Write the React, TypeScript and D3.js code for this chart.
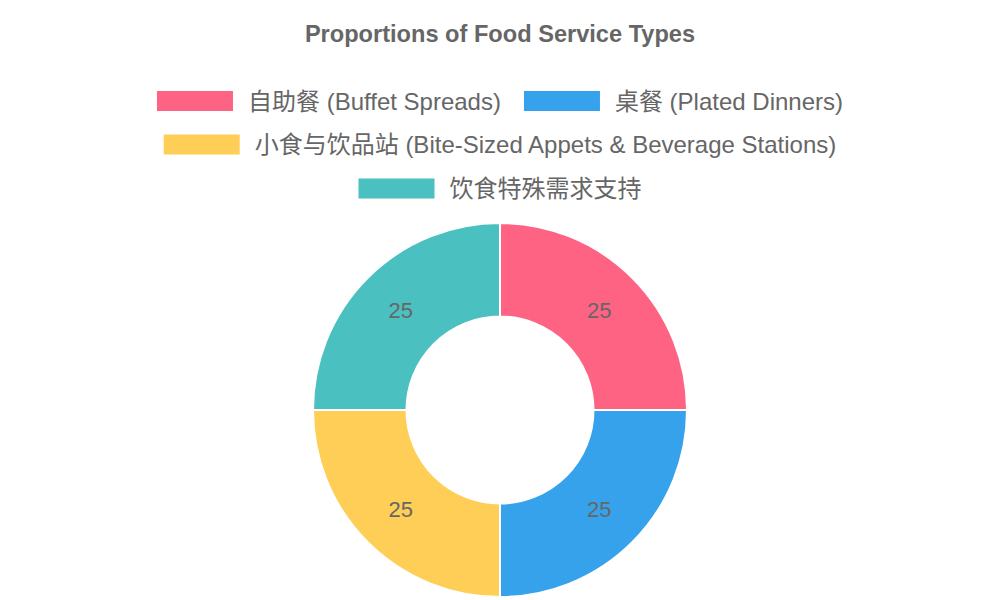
import React, { useEffect, useRef } from "react";
import * as d3 from "d3";

const title = "Proportions of Food Service Types";
const categories = [
  "自助餐 (Buffet Spreads)",
  "桌餐 (Plated Dinners)",
  "小食与饮品站 (Bite-Sized Appets & Beverage Stations)",
  "饮食特殊需求支持",
];
const values = [25, 25, 25, 25];
const colors = ["#FF6384", "#36A2EB", "#FFCE56", "#4BC0C0"];
const legendRows = [[0, 1], [2], [3]];

const W = 1000;
const H = 600;
const FONT = "'Helvetica Neue', Helvetica, Arial, 'Liberation Sans', 'Noto Sans CJK SC', sans-serif";

export default function App() {
  const ref = useRef<SVGSVGElement>(null);

  useEffect(() => {
    const svg = d3.select(ref.current);
    svg.selectAll("*").remove();

    svg
      .append("text")
      .attr("x", W / 2)
      .attr("y", 34)
      .attr("text-anchor", "middle")
      .attr("dominant-baseline", "central")
      .style("font-family", FONT)
      .style("font-size", "23.6px")
      .style("font-weight", "bold")
      .attr("fill", "#666")
      .text(title);

    // Legend
    const boxW = 76;
    const boxH = 20;
    const textGap = 15;
    const itemGap = 23;
    const rowY = [101, 144.5, 188.5];
    const lg = svg.append("g");
    legendRows.forEach((row, ri) => {
      const items = row.map((i) => {
        const g = lg.append("g");
        g.append("rect")
          .attr("width", boxW)
          .attr("height", boxH)
          .attr("y", -boxH / 2)
          .attr("fill", colors[i]);
        const t = g
          .append("text")
          .attr("x", boxW + textGap)
          .attr("y", 0)
          .attr("dominant-baseline", "central")
          .style("font-family", FONT)
          .style("font-size", "24px")
          .attr("fill", "#666")
          .text(categories[i]);
        const tw = (t.node() as SVGTextElement).getComputedTextLength();
        return { g, w: boxW + textGap + tw };
      });
      const total = items.reduce((s, it) => s + it.w, 0) + itemGap * (items.length - 1);
      let x = W / 2 - total / 2;
      items.forEach((it) => {
        it.g.attr("transform", `translate(${x},${rowY[ri]})`);
        x += it.w + itemGap;
      });
    });

    // Donut
    const cx = 500;
    const cy = 410;
    const outerR = 187;
    const innerR = 93.5;
    const pie = d3.pie<number>().sort(null).value((d) => d);
    const arcs = pie(values);
    const arc = d3.arc<d3.PieArcDatum<number>>().innerRadius(innerR).outerRadius(outerR);
    const g = svg.append("g").attr("transform", `translate(${cx},${cy})`);
    g.selectAll("path")
      .data(arcs)
      .join("path")
      .attr("d", arc)
      .attr("fill", (_, i) => colors[i])
      .attr("stroke", "#fff")
      .attr("stroke-width", 2)
      .attr("stroke-linejoin", "round");

    g.selectAll("text.lbl")
      .data(arcs)
      .join("text")
      .attr("class", "lbl")
      .attr("transform", (d) => `translate(${arc.centroid(d)})`)
      .attr("text-anchor", "middle")
      .attr("dominant-baseline", "central")
      .style("font-family", FONT)
      .style("font-size", "22px")
      .attr("fill", "#666")
      .text((d) => String(d.data));
  }, []);

  return (
    <svg
      ref={ref}
      width={W}
      height={H}
      style={{ position: "absolute", left: 0, top: 0, background: "#fff" }}
    />
  );
}
